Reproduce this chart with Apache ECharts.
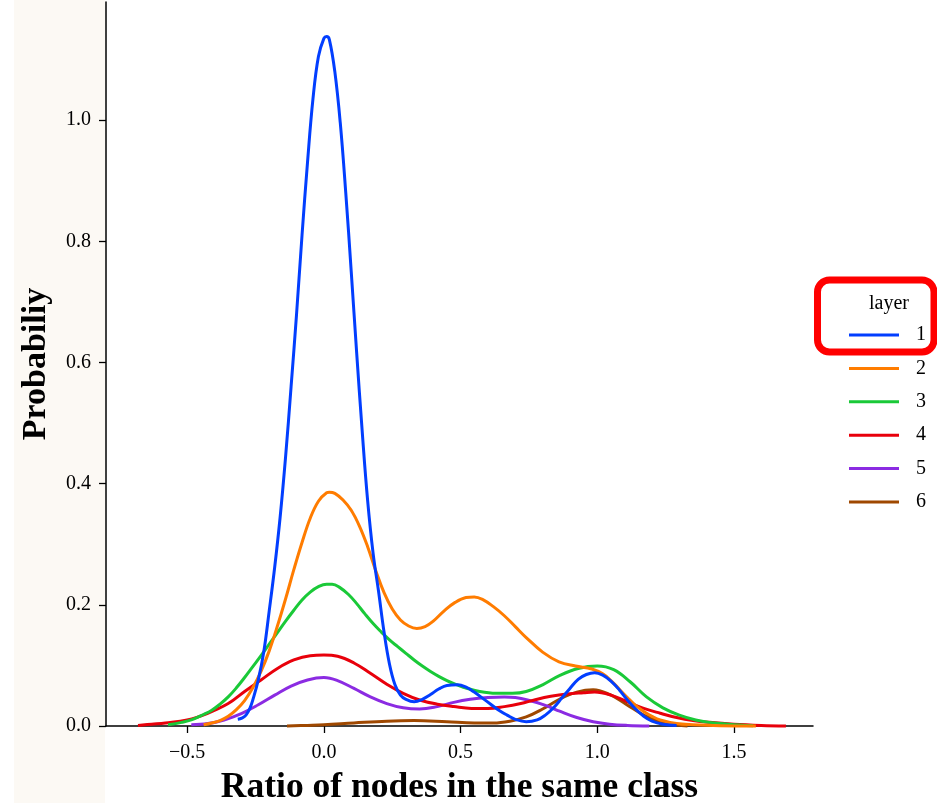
<!DOCTYPE html>
<html>
<head>
<meta charset="utf-8">
<script src="https://cdn.jsdelivr.net/npm/echarts@6/dist/echarts.min.js"></script>
<style>
  html, body { margin: 0; padding: 0; background: #ffffff; overflow: hidden; }
  #chart { width: 937px; height: 803px; }
</style>
</head>
<body>
<div id="chart"></div>
<script>
// Density of "ratio of nodes in the same class", one curve per layer
const layers = ['1', '2', '3', '4', '5', '6'];
const layerColors = ['#023eff', '#ff7c00', '#1ac938', '#e8000b', '#8b2be2', '#9f4800'];

const xTicks = [-0.5, 0.0, 0.5, 1.0, 1.5];
const yTicks = [0.0, 0.2, 0.4, 0.6, 0.8, 1.0];

const layer1 = [
  [-0.315, 0.011], [-0.30, 0.013], [-0.285, 0.018], [-0.27, 0.030], [-0.26, 0.043],
  [-0.24, 0.076], [-0.22, 0.122], [-0.20, 0.190], [-0.18, 0.262], [-0.16, 0.345],
  [-0.14, 0.445], [-0.12, 0.560], [-0.10, 0.680], [-0.08, 0.810], [-0.06, 0.930],
  [-0.04, 1.035], [-0.02, 1.105], [0.00, 1.135], [0.01, 1.138], [0.02, 1.133],
  [0.04, 1.080], [0.06, 0.995], [0.08, 0.880], [0.10, 0.750], [0.12, 0.615],
  [0.14, 0.487], [0.16, 0.372], [0.18, 0.285], [0.20, 0.222], [0.22, 0.155],
  [0.24, 0.102], [0.26, 0.068], [0.28, 0.051], [0.30, 0.044], [0.33, 0.040],
  [0.36, 0.044], [0.39, 0.052], [0.42, 0.061], [0.45, 0.067], [0.49, 0.068],
  [0.52, 0.064], [0.55, 0.056], [0.58, 0.046], [0.61, 0.036], [0.64, 0.026],
  [0.67, 0.018], [0.70, 0.011], [0.74, 0.007], [0.78, 0.010], [0.81, 0.018],
  [0.84, 0.030], [0.87, 0.046], [0.90, 0.062], [0.93, 0.077], [0.96, 0.085],
  [0.99, 0.088], [1.02, 0.084], [1.05, 0.074], [1.08, 0.060], [1.11, 0.043],
  [1.14, 0.028], [1.17, 0.016], [1.20, 0.008], [1.24, 0.003], [1.29, 0.001]
];

const layer2 = [
  [-0.44, 0.002], [-0.41, 0.005], [-0.38, 0.009], [-0.35, 0.016], [-0.32, 0.027],
  [-0.29, 0.042], [-0.26, 0.063], [-0.23, 0.090], [-0.20, 0.124], [-0.17, 0.165],
  [-0.14, 0.210], [-0.11, 0.258], [-0.08, 0.303], [-0.05, 0.343], [-0.02, 0.371],
  [0.01, 0.385], [0.02, 0.386], [0.04, 0.384], [0.07, 0.373], [0.10, 0.356],
  [0.13, 0.330], [0.16, 0.296], [0.19, 0.256], [0.22, 0.220], [0.25, 0.193],
  [0.28, 0.175], [0.31, 0.165], [0.34, 0.161], [0.37, 0.164], [0.40, 0.173],
  [0.44, 0.190], [0.48, 0.204], [0.52, 0.212], [0.55, 0.213], [0.58, 0.209],
  [0.62, 0.197], [0.66, 0.182], [0.70, 0.164], [0.74, 0.146], [0.80, 0.122],
  [0.86, 0.106], [0.92, 0.099], [0.98, 0.094], [1.02, 0.086], [1.05, 0.075],
  [1.08, 0.061], [1.11, 0.047], [1.14, 0.034], [1.17, 0.024], [1.20, 0.016],
  [1.23, 0.010], [1.29, 0.004], [1.35, 0.002], [1.45, 0.0005], [1.58, 0.0]
];

const layer3 = [
  [-0.57, 0.002], [-0.52, 0.006], [-0.485, 0.010], [-0.44, 0.019], [-0.41, 0.026],
  [-0.38, 0.036], [-0.35, 0.048], [-0.32, 0.063], [-0.29, 0.080], [-0.26, 0.098],
  [-0.23, 0.116], [-0.20, 0.135], [-0.17, 0.154], [-0.14, 0.173], [-0.11, 0.191],
  [-0.08, 0.208], [-0.05, 0.221], [-0.02, 0.230], [0.01, 0.234], [0.03, 0.234],
  [0.06, 0.228], [0.09, 0.217], [0.12, 0.202], [0.15, 0.185], [0.18, 0.169],
  [0.21, 0.155], [0.24, 0.142], [0.27, 0.131], [0.30, 0.120], [0.33, 0.109],
  [0.36, 0.099], [0.39, 0.090], [0.42, 0.082], [0.45, 0.075], [0.48, 0.069],
  [0.51, 0.064], [0.57, 0.057], [0.63, 0.054], [0.69, 0.054], [0.74, 0.057],
  [0.80, 0.068], [0.865, 0.084], [0.93, 0.095], [1.00, 0.099], [1.06, 0.093],
  [1.12, 0.073], [1.18, 0.048], [1.24, 0.030], [1.30, 0.018], [1.36, 0.010],
  [1.41, 0.006], [1.48, 0.003], [1.57, 0.0005]
];

const layer4 = [
  [-0.68, 0.001], [-0.63, 0.003], [-0.58, 0.005], [-0.50, 0.010], [-0.425, 0.021],
  [-0.35, 0.037], [-0.29, 0.057], [-0.23, 0.076], [-0.17, 0.095], [-0.11, 0.109],
  [-0.05, 0.116], [0.00, 0.117], [0.05, 0.115], [0.11, 0.104], [0.17, 0.087],
  [0.23, 0.069], [0.29, 0.054], [0.35, 0.043], [0.415, 0.036], [0.475, 0.032],
  [0.54, 0.029], [0.60, 0.029], [0.66, 0.032], [0.72, 0.037], [0.77, 0.043],
  [0.83, 0.049], [0.89, 0.053], [0.95, 0.055], [0.99, 0.056], [1.05, 0.051],
  [1.11, 0.040], [1.17, 0.029], [1.23, 0.021], [1.29, 0.014], [1.35, 0.009],
  [1.41, 0.006], [1.50, 0.003], [1.60, 0.001], [1.69, 0.0]
];

const layer5 = [
  [-0.485, 0.002], [-0.425, 0.004], [-0.365, 0.010], [-0.30, 0.021], [-0.24, 0.035],
  [-0.18, 0.051], [-0.12, 0.066], [-0.06, 0.076], [0.00, 0.080], [0.05, 0.075],
  [0.11, 0.062], [0.17, 0.048], [0.23, 0.037], [0.29, 0.030], [0.35, 0.028],
  [0.415, 0.032], [0.475, 0.039], [0.535, 0.044], [0.60, 0.047], [0.66, 0.048],
  [0.70, 0.047], [0.745, 0.043], [0.805, 0.035], [0.865, 0.024], [0.925, 0.014],
  [0.985, 0.007], [1.045, 0.003], [1.11, 0.001], [1.19, 0.0]
];

const layer6 = [
  [-0.135, 0.0], [-0.06, 0.001], [0.00, 0.002], [0.11, 0.005], [0.23, 0.008],
  [0.33, 0.009], [0.45, 0.007], [0.55, 0.005], [0.62, 0.005], [0.68, 0.008],
  [0.74, 0.015], [0.80, 0.028], [0.865, 0.045], [0.925, 0.056], [0.985, 0.060],
  [1.045, 0.052], [1.105, 0.036], [1.17, 0.018], [1.23, 0.007], [1.29, 0.002],
  [1.33, 0.0]
];

const layerData = [layer1, layer2, layer3, layer4, layer5, layer6];

const serif = 'Liberation Serif';
const fmt = v => (v < 0 ? '\u2212' : '') + Math.abs(v).toFixed(1);

const chart = echarts.init(document.getElementById('chart'), null, { renderer: 'canvas' });

chart.setOption({
  backgroundColor: '#ffffff',
  animation: false,
  grid: { left: 106, top: 2, width: 707, height: 724, containLabel: false, outerBoundsMode: 'none' },
  xAxis: {
    type: 'value',
    min: -0.797,
    max: 1.789,
    name: 'Ratio of nodes in the same class',
    nameLocation: 'middle',
    nameGap: 44,
    nameTextStyle: { fontFamily: serif, fontWeight: 'bold', fontSize: 35.5, color: '#000' },
    axisLine: { onZero: false, lineStyle: { color: '#000', width: 1.5 } },
    axisTick: { show: true, length: 7, lineStyle: { color: '#000', width: 1.3 }, customValues: xTicks },
    axisLabel: { fontFamily: serif, fontSize: 20, color: '#000', margin: 17, customValues: xTicks, formatter: fmt },
    splitLine: { show: false }
  },
  yAxis: {
    type: 'value',
    min: 0,
    max: 1.195,
    name: 'Probabiliy',
    nameLocation: 'middle',
    nameGap: 53,
    nameTextStyle: { fontFamily: serif, fontWeight: 'bold', fontSize: 34, color: '#000' },
    axisLine: { onZero: false, lineStyle: { color: '#000', width: 1.5 } },
    axisTick: { show: true, length: 7, lineStyle: { color: '#000', width: 1.3 }, customValues: yTicks },
    axisLabel: { fontFamily: serif, fontSize: 20, color: '#000', margin: 15, customValues: yTicks, formatter: fmt },
    splitLine: { show: false }
  },
  legend: {
    orient: 'vertical',
    left: 844,
    top: 320,
    data: layers,
    itemWidth: 50,
    itemHeight: 3,
    itemGap: 13.4,
    icon: 'path://M0,0 L50,0 L50,3 L0,3 Z',
    textStyle: { fontFamily: serif, fontSize: 20, color: '#000', padding: [0, 0, 0, 12] },
    selectedMode: false
  },
  graphic: [
    {
      type: 'rect', z: -10, silent: true,
      shape: { x: 14, y: 0, width: 91, height: 803 },
      style: { fill: '#fcf9f4' }
    },
    {
      type: 'text', silent: true,
      style: { text: 'layer', x: 889, y: 304, align: 'center', verticalAlign: 'middle',
               font: '20px "Liberation Serif"', fill: '#000' }
    },
    {
      type: 'rect', silent: true,
      shape: { x: 817.5, y: 280, width: 116.5, height: 72, r: 12 },
      style: { fill: 'none', stroke: '#ff0000', lineWidth: 7 }
    }
  ],
  series: layers.map((name, i) => ({
    name: name,
    type: 'line',
    data: layerData[i],
    smooth: 0.4,
    symbol: 'none',
    z: 10 - i,
    color: layerColors[i],
    itemStyle: { color: layerColors[i] },
    lineStyle: { color: layerColors[i], width: 3 },
    clip: false
  }))
});
</script>
</body>
</html>
